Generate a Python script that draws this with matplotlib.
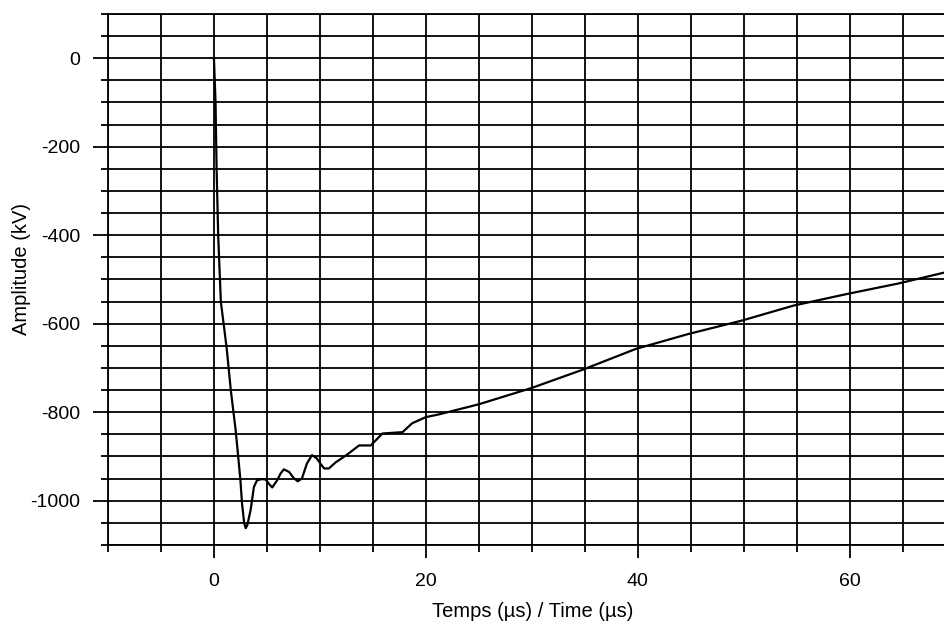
import matplotlib
matplotlib.use("Agg")
import matplotlib.pyplot as plt
from matplotlib.ticker import MultipleLocator, FixedLocator

# Data (time in µs, amplitude in kV)
time_us = [0.0, 0.15, 0.25, 0.4, 0.65, 1.2, 1.6, 2.05, 2.2, 2.5, 2.65, 2.85, 3.0, 3.15,
           3.46, 3.77, 4.06, 4.5, 4.88, 5.2, 5.5, 5.96, 6.3, 6.6, 7.1, 7.5, 7.9, 8.3,
           8.77, 9.25, 9.7, 10.1, 10.4, 10.85, 11.5, 12.5, 13.7, 14.8, 15.9, 17.8,
           18.7, 20.0, 21.2, 25.0, 30.0, 34.9, 39.8, 44.8, 49.8, 54.7, 59.7, 64.6, 69.0]
amplitude_kv = [0, -100, -250, -400, -550, -655, -752, -841, -878, -954, -1006, -1050,
                -1062, -1055, -1021, -969, -954, -951, -952, -962, -970, -954, -938,
                -929, -935, -948, -956, -950, -916, -897, -904, -918, -927, -927, -913,
                -897, -875, -875, -848, -845, -825, -811, -805, -782, -745, -703, -657,
                -623, -593, -559, -533, -509, -484]

x_ticks = [0, 20, 40, 60]
x_tick_labels = ["0", "20", "40", "60"]
y_ticks = [0, -200, -400, -600, -800, -1000]
y_tick_labels = ["0", "-200", "-400", "-600", "-800", "-1000"]
x_label = "Temps (µs) / Time (µs)"
y_label = "Amplitude (kV)"

plt.rcParams['font.family'] = ['Liberation Sans', 'DejaVu Sans']

fig = plt.figure(figsize=(9.45, 6.27), dpi=100)
ax = fig.add_axes([108/945, 1-545/627, (945-108)/945, (545-14)/627])

ax.set_xlim(-10, 69)
ax.set_ylim(-1100, 100)

ax.xaxis.set_major_locator(FixedLocator(x_ticks))
ax.set_xticklabels(x_tick_labels)
ax.xaxis.set_minor_locator(MultipleLocator(5))
ax.yaxis.set_major_locator(FixedLocator(y_ticks))
ax.set_yticklabels(y_tick_labels)
ax.yaxis.set_minor_locator(MultipleLocator(50))

ax.grid(which='both', color='black', linewidth=1.3)
ax.set_axisbelow(True)

ax.plot(time_us, amplitude_kv, color='black', linewidth=1.6, zorder=3,
        solid_joinstyle='round')

for s in ['left', 'bottom', 'top']:
    ax.spines[s].set_linewidth(1.3)
    ax.spines[s].set_color('black')
ax.spines['right'].set_visible(False)

ax.tick_params(axis='x', which='major', length=9, width=1.3, pad=11, labelsize=14)
ax.tick_params(axis='x', which='minor', length=5, width=1.3)
ax.tick_params(axis='y', which='major', length=11, width=1.3, pad=9, labelsize=14)
ax.tick_params(axis='y', which='minor', length=5, width=1.3)

ax.set_xlabel(x_label, fontsize=14.5, va='center')
ax.xaxis.set_label_coords(0.507, -0.126)
ax.set_ylabel(y_label, fontsize=14.5, va='center')
ax.yaxis.set_label_coords(-0.103, 0.52)

fig.savefig("out.png", dpi=100)
